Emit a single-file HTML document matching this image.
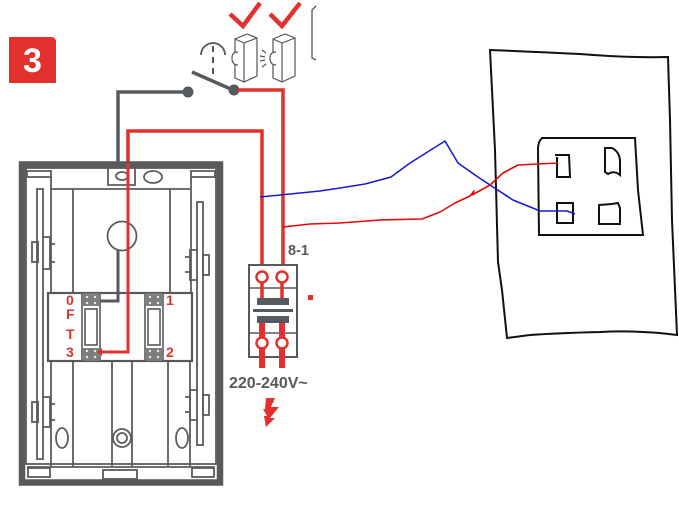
<!DOCTYPE html>
<html><head><meta charset="utf-8"><style>
html,body{margin:0;padding:0;background:#fff;width:679px;height:511px;overflow:hidden}
svg{display:block}
text{font-family:"Liberation Sans","DejaVu Sans",sans-serif;font-weight:bold}
</style></head><body>
<svg width="679" height="511" viewBox="0 0 679 511" xmlns="http://www.w3.org/2000/svg">
<!-- badge -->
<path d="M9,37 H51 Q56,37 56,42 V83 H9 Z" fill="#e2302d"/>
<text x="32.5" y="72" font-size="34" fill="#fff" text-anchor="middle" font-weight="normal">3</text>

<!-- checkmarks -->
<polyline points="230,14 243,26 260,3" fill="none" stroke="#e2302d" stroke-width="4.5"/>
<polyline points="270,14 282,26 300,3" fill="none" stroke="#e2302d" stroke-width="4.5"/>

<!-- bell symbol -->
<path d="M201,55 A12,12 0 0 1 225,55" fill="none" stroke="#555" stroke-width="1.8"/>
<line x1="213" y1="46" x2="213" y2="74" stroke="#555" stroke-width="2" stroke-dasharray="6,5"/>

<!-- push buttons -->
<g fill="#fff" stroke="#555" stroke-width="1.2">
<path d="M235,39 L247,34 L257,38 L257,76 L244,82 L235,78 Z"/>
<path d="M235,39 L244,43 L257,38 M244,43 L244,82"/>
<path d="M238,52 Q232,52 232,58 Q232,65 238,65"/>
<path d="M273,39 L285,34 L295,38 L295,76 L282,82 L273,78 Z"/>
<path d="M273,39 L282,43 L295,38 M282,43 L282,82"/>
<path d="M276,52 Q270,52 270,58 Q270,65 276,65"/>
</g>
<g stroke="#555" stroke-width="1.2">
<line x1="262" y1="50" x2="266" y2="53"/>
<line x1="260" y1="56" x2="265" y2="57"/>
<line x1="260" y1="61" x2="265" y2="60"/>
<line x1="262" y1="67" x2="266" y2="64"/>
</g>
<!-- bracket -->
<path d="M316,6 L312,10 L312,58 L316,60" fill="none" stroke="#555" stroke-width="1.3"/>

<!-- switch -->
<polyline points="118,163 118,92 188,92" fill="none" stroke="#555a5e" stroke-width="3.5"/>
<line x1="192" y1="72" x2="233" y2="90" stroke="#555a5e" stroke-width="3.5"/>
<circle cx="188" cy="92" r="5.5" fill="#555a5e"/>
<circle cx="234" cy="90" r="5.5" fill="#555a5e"/>

<!-- red wires to breaker -->
<polyline points="238,90 283,90 283,271" fill="none" stroke="#e2302d" stroke-width="3.5"/>
<polyline points="128,163 128,131 262,131 262,271" fill="none" stroke="#e2302d" stroke-width="3.5"/>

<!-- bell box -->
<rect x="22" y="164.5" width="198" height="318" fill="#fff" stroke="#58595b" stroke-width="6.5"/>
<g fill="none" stroke="#5a5b5d" stroke-width="1.8">
<rect x="26" y="168" width="190" height="296"/>
<path d="M27,177 L27,171 L51,171 L51,177 Z"/>
<path d="M191,177 L191,171 L215,171 L215,177 Z"/>
<path d="M76,167 L84,167 M153,167 L161,167"/>
<path d="M108,167 L108,185 L135,185 L135,167"/>
<ellipse cx="122" cy="176" rx="6" ry="4"/>
<ellipse cx="153" cy="177" rx="9" ry="6"/>
<line x1="51" y1="177" x2="51" y2="293"/>
<line x1="51" y1="189" x2="191" y2="189"/>
<line x1="73" y1="189" x2="73" y2="293"/>
<line x1="170" y1="189" x2="170" y2="293"/>
<line x1="191" y1="177" x2="191" y2="293"/>
<circle cx="122" cy="236" r="14.5"/>
<!-- lower section -->
<line x1="51" y1="362" x2="51" y2="467"/>
<line x1="73" y1="362" x2="73" y2="467"/>
<line x1="112" y1="362" x2="112" y2="467"/>
<line x1="132" y1="362" x2="132" y2="467"/>
<line x1="168" y1="362" x2="168" y2="467"/>
<line x1="190" y1="362" x2="190" y2="467"/>
<line x1="27" y1="467" x2="215" y2="467"/>
<rect x="28" y="468" width="22" height="9"/>
<rect x="103" y="470" width="34" height="9"/>
<rect x="192" y="468" width="22" height="9"/>
<ellipse cx="62" cy="438" rx="6" ry="10"/>
<ellipse cx="182" cy="438" rx="6" ry="10"/>
<circle cx="122" cy="438" r="9"/>
<circle cx="122" cy="438" r="5"/>
<!-- side bars -->
<rect x="37" y="189" width="6" height="270"/>
<rect x="197" y="202" width="6" height="243"/>
<!-- clips left -->
<rect x="32" y="242" width="6" height="20"/>
<path d="M43,237 L50,237 L50,244 L55,244 M50,244 L50,262 L55,262 M50,262 L50,269 L43,269"/>
<rect x="32" y="402" width="6" height="20"/>
<path d="M43,397 L50,397 L50,404 L55,404 M50,404 L50,420 L55,420 M50,420 L50,427 L43,427"/>
<!-- clips right -->
<rect x="203" y="255" width="6" height="20"/>
<path d="M197,250 L190,250 L190,257 L185,257 M190,257 L190,272 L185,272 M190,272 L190,280 L197,280"/>
<rect x="203" y="395" width="6" height="20"/>
<path d="M197,390 L190,390 L190,397 L185,397 M190,397 L190,412 L185,412 M190,412 L190,420 L197,420"/>
</g>
<!-- terminal block -->
<rect x="48" y="293" width="144" height="68" fill="#fff" stroke="#555a5e" stroke-width="2.2"/>
<g fill="#fff" stroke="#555a5e" stroke-width="1.6">
<rect x="82" y="293" width="18" height="68"/>
<rect x="145" y="293" width="18" height="68"/>
<rect x="85" y="309" width="12" height="36"/>
<rect x="148" y="309" width="12" height="36"/>
</g>
<g fill="#7d7e80">
<rect x="83" y="294" width="16" height="12"/>
<rect x="83" y="348" width="16" height="12"/>
<rect x="146" y="294" width="16" height="12"/>
<rect x="146" y="348" width="16" height="12"/>
</g>
<g fill="#e8e8e8">
<circle cx="87" cy="297" r="1.2"/><circle cx="95" cy="297" r="1.2"/><circle cx="87" cy="303" r="1.2"/><circle cx="95" cy="303" r="1.2"/>
<circle cx="87" cy="351" r="1.2"/><circle cx="95" cy="351" r="1.2"/><circle cx="87" cy="357" r="1.2"/><circle cx="95" cy="357" r="1.2"/>
<circle cx="150" cy="297" r="1.2"/><circle cx="158" cy="297" r="1.2"/><circle cx="150" cy="303" r="1.2"/><circle cx="158" cy="303" r="1.2"/>
<circle cx="150" cy="351" r="1.2"/><circle cx="158" cy="351" r="1.2"/><circle cx="150" cy="357" r="1.2"/><circle cx="158" cy="357" r="1.2"/>
</g>
<!-- internal wires -->
<polyline points="118,250 118,301 100,301" fill="none" stroke="#555a5e" stroke-width="3"/>
<polyline points="128,164 128,352 100,352" fill="none" stroke="#e2302d" stroke-width="3"/>
<polygon points="97,352 102,348 102,356" fill="#e2302d"/>
<!-- labels -->
<g fill="#e2302d" font-size="14">
<text x="66" y="305">0</text>
<text x="66" y="319">F</text>
<text x="66" y="339">T</text>
<text x="66" y="357">3</text>
<text x="166" y="305">1</text>
<text x="166" y="357">2</text>
</g>

<!-- breaker -->
<rect x="249" y="265" width="48" height="92" fill="#fff" stroke="#555a5e" stroke-width="2"/>
<line x1="249" y1="288" x2="297" y2="288" stroke="#555a5e" stroke-width="1.5"/>
<line x1="249" y1="333" x2="297" y2="333" stroke="#555a5e" stroke-width="1.5"/>
<line x1="262" y1="271" x2="262" y2="298" stroke="#e2302d" stroke-width="3.5"/>
<line x1="282" y1="271" x2="282" y2="298" stroke="#e2302d" stroke-width="3.5"/>
<line x1="262" y1="322" x2="262" y2="368" stroke="#e2302d" stroke-width="6"/>
<line x1="282" y1="322" x2="282" y2="368" stroke="#e2302d" stroke-width="6"/>
<circle cx="262" cy="277" r="5.5" fill="#fff" stroke="#e2302d" stroke-width="2.5"/>
<circle cx="282" cy="277" r="5.5" fill="#fff" stroke="#e2302d" stroke-width="2.5"/>
<circle cx="262" cy="343" r="5.5" fill="#fff" stroke="#e2302d" stroke-width="2.5"/>
<circle cx="282" cy="343" r="5.5" fill="#fff" stroke="#e2302d" stroke-width="2.5"/>
<rect x="257" y="298" width="32" height="7" fill="#555a5e"/>
<rect x="253" y="309" width="40" height="3" fill="#555a5e"/>
<rect x="257" y="316" width="32" height="7" fill="#555a5e"/>
<rect x="308" y="295" width="5" height="5" fill="#e2302d"/>
<text x="288" y="255" font-size="14.5" fill="#555a5e">8-1</text>
<text x="229" y="388" font-size="16" fill="#555a5e">220-240V~</text>
<path d="M266,398 L275,398 L271,407 L279,407 L270,418 L275,418 L266,427 L264,416 L267,416 L263,409 L265,409 Z" fill="#e2302d"/>

<!-- hand-drawn socket -->
<path d="M490,50 Q540,52 580,54 Q630,58 668,57 L670,120 L672,220 L677,335 Q640,330 600,332 Q560,333 530,335 L507,338 L502,290 L498,262 L495,150 Z" fill="none" stroke="#111" stroke-width="2"/>
<path d="M541,138 L635,138 L638,190 L643,235 L539,235 L538,150 Q538,140 543,138" fill="none" stroke="#111" stroke-width="2"/>
<path d="M555,155 L569,155 L570,177 L557,177 L557,157" fill="none" stroke="#111" stroke-width="2"/>
<path d="M605,148 L612,148 Q620,152 620,162 L620,175 Q614,170 608,174 L605,172 Z" fill="none" stroke="#111" stroke-width="2"/>
<rect x="557" y="203" width="16" height="20" fill="none" stroke="#111" stroke-width="2"/>
<path d="M599,205 L612,204 L618,203 L620,208 L620,224 L599,224 Z" fill="none" stroke="#111" stroke-width="2"/>

<!-- blue wire -->
<polyline points="260,197 290,194 320,191 340,188 365,184 391,177 410,163 445,141 458,163 475,175 490,185 513,200 540,211 567,211 575,214" fill="none" stroke="#1a1ad0" stroke-width="1.6" stroke-linejoin="round"/>
<!-- thin red wire -->
<polyline points="283,227 310,224 340,223 380,220 422,219 440,212 455,203 470,196 474,191 472,195 490,185 503,173 518,165 558,163" fill="none" stroke="#e00a0a" stroke-width="1.6" stroke-linejoin="round"/>
</svg>
</body></html>
